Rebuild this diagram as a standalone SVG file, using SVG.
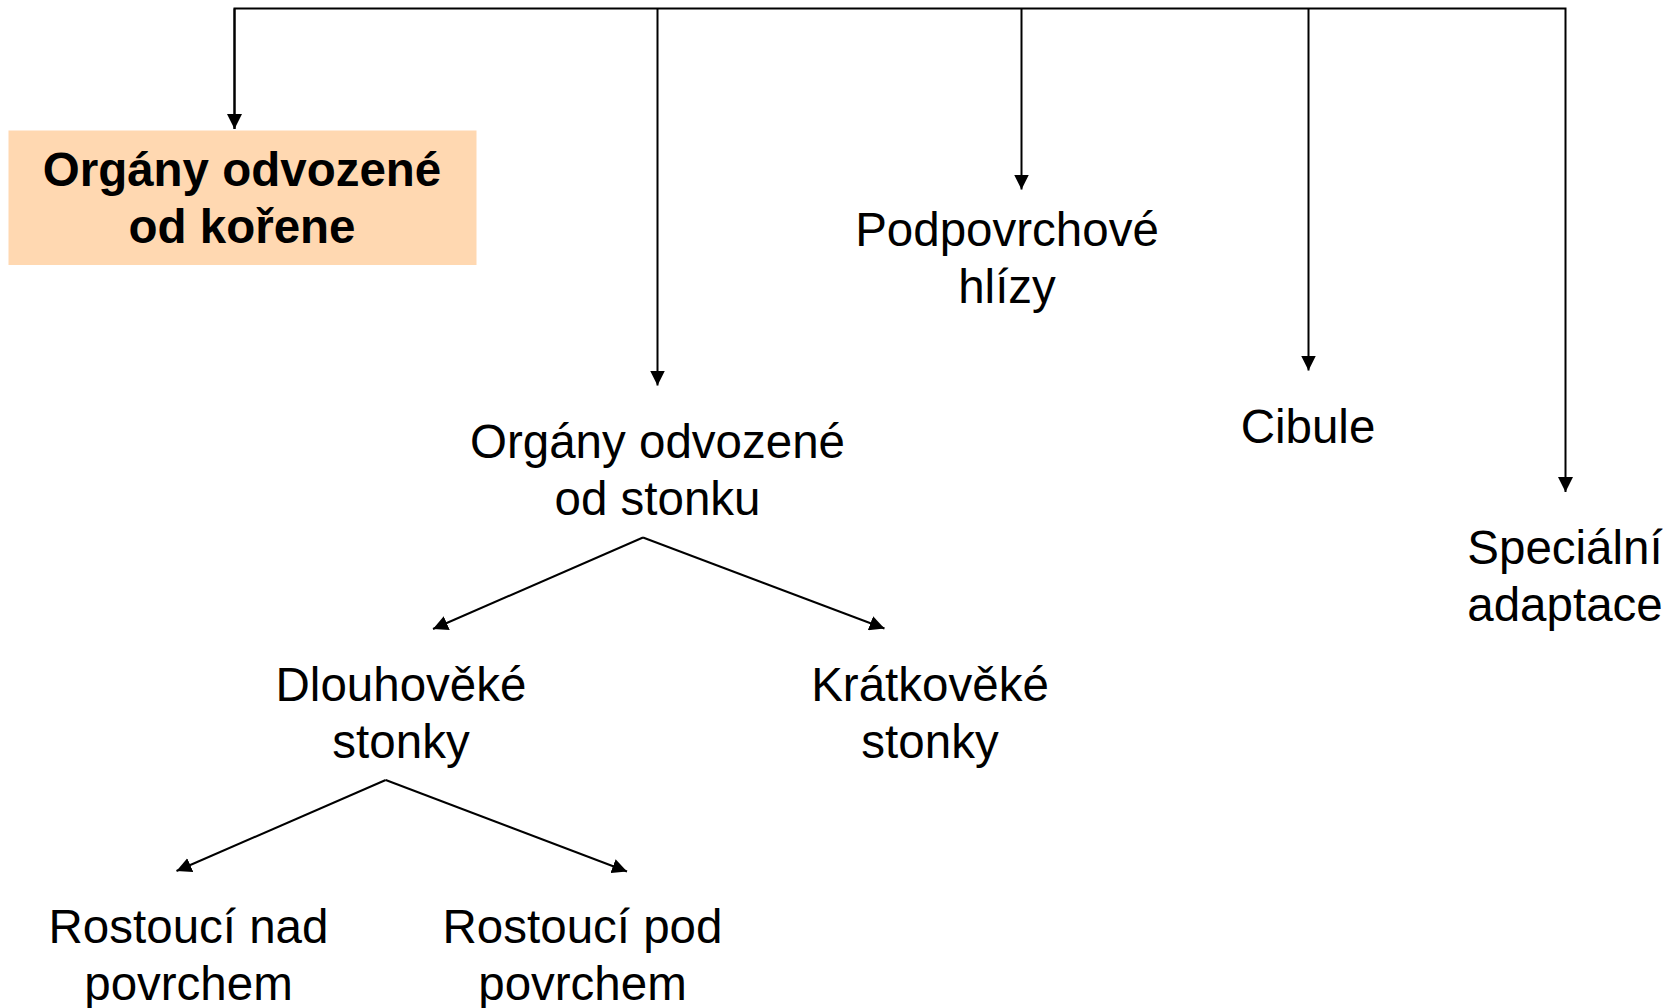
<svg xmlns="http://www.w3.org/2000/svg" width="1680" height="1008" viewBox="0 0 1680 1008">
  <style>
    .t { font-family: "Liberation Sans", Arial, sans-serif; font-size: 47.5px; fill: #000; text-anchor: middle; }
    .b { font-weight: bold; }
    .c { fill: none; stroke: #000; stroke-width: 2; }
    .a { marker-end: url(#arr); }
  </style>
  <defs>
    <marker id="arr" markerUnits="userSpaceOnUse" viewBox="0 0 15 15" refX="15" refY="7.5" markerWidth="15" markerHeight="15" orient="auto">
      <path d="M0,0 L15,7.5 L0,15 z" fill="#000"/>
    </marker>
  </defs>
  <rect width="1680" height="1008" fill="#fff"/>

  <g id="connectors">
    <polyline class="c" points="234.5,129 234.5,8.5 1565.5,8.5 1565.5,492" marker-end="url(#arr)"/>
    <line class="c a" x1="657.5" y1="8.5" x2="657.5" y2="385.5"/>
    <line class="c a" x1="1021.5" y1="8.5" x2="1021.5" y2="189.5"/>
    <line class="c a" x1="1308.5" y1="8.5" x2="1308.5" y2="370.5"/>
    <line class="c a" x1="234.5" y1="8.5" x2="234.5" y2="129"/>
    <line class="c a" x1="643" y1="537.5" x2="433" y2="629"/>
    <line class="c a" x1="643" y1="537.5" x2="884.5" y2="628.5"/>
    <line class="c a" x1="385.7" y1="780" x2="176.5" y2="871"/>
    <line class="c a" x1="385.7" y1="780" x2="627" y2="871.5"/>
  </g>

  <g id="node-koren">
    <rect x="8.5" y="130.5" width="468" height="134.5" fill="#FFD8B1"/>
    <text class="t b" x="242" y="186">Orgány odvozené</text>
    <text class="t b" x="242" y="243">od kořene</text>
  </g>

  <g id="node-stonek">
    <text class="t" x="657.5" y="458">Orgány odvozené</text>
    <text class="t" x="657.5" y="515">od stonku</text>
  </g>

  <g id="node-hlizy">
    <text class="t" x="1007" y="246">Podpovrchové</text>
    <text class="t" x="1007" y="303">hlízy</text>
  </g>

  <g id="node-cibule">
    <text class="t" x="1308" y="443">Cibule</text>
  </g>

  <g id="node-specialni">
    <text class="t" x="1565" y="564">Speciální</text>
    <text class="t" x="1565" y="621">adaptace</text>
  </g>

  <g id="node-dlouhoveke">
    <text class="t" x="401" y="701">Dlouhověké</text>
    <text class="t" x="401" y="758">stonky</text>
  </g>

  <g id="node-kratkoveke">
    <text class="t" x="930" y="701">Krátkověké</text>
    <text class="t" x="930" y="758">stonky</text>
  </g>

  <g id="node-nad">
    <text class="t" x="188.5" y="943">Rostoucí nad</text>
    <text class="t" x="188.5" y="1000">povrchem</text>
  </g>

  <g id="node-pod">
    <text class="t" x="582.5" y="943">Rostoucí pod</text>
    <text class="t" x="582.5" y="1000">povrchem</text>
  </g>
</svg>
